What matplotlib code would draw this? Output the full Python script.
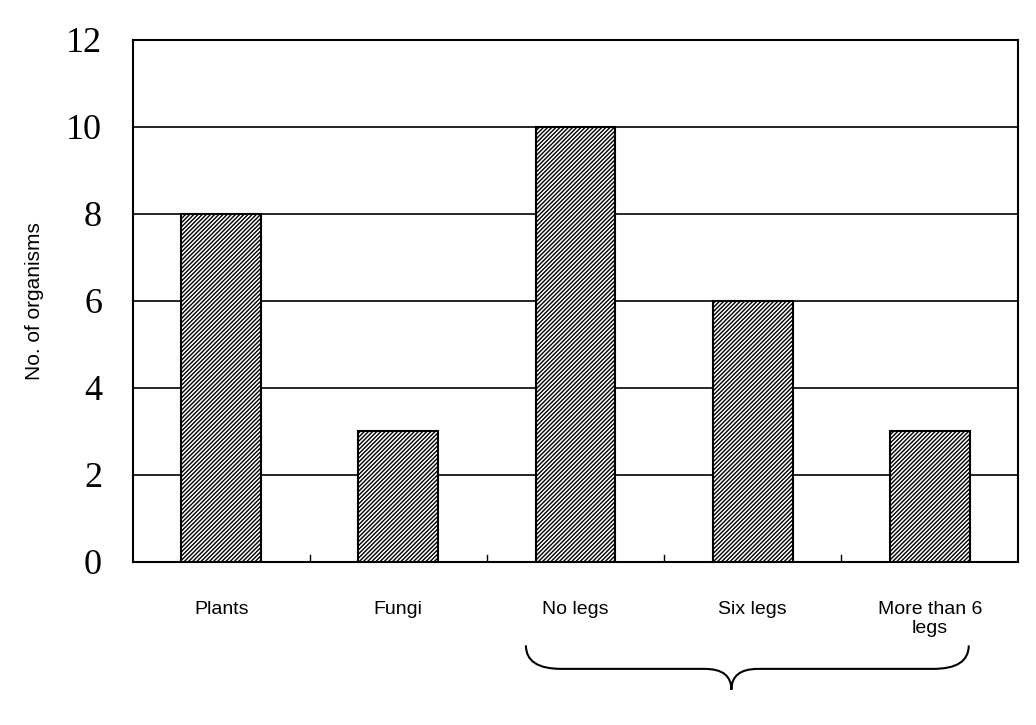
import matplotlib
matplotlib.use("Agg")
import matplotlib.pyplot as plt
from matplotlib.path import Path
from matplotlib.patches import PathPatch
import matplotlib.transforms as mtransforms

categories = ["Plants", "Fungi", "No legs", "Six legs", "More than 6\nlegs"]
values = [8, 3, 10, 6, 3]
y_ticks = [0, 2, 4, 6, 8, 10, 12]
y_label = "No. of organisms"

plt.rcParams["hatch.linewidth"] = 1.0

fig = plt.figure(figsize=(10.36, 7.25), dpi=100)
ax = fig.add_axes([0.128, 0.225, 0.855, 0.72])

x = list(range(len(categories)))
ax.bar(x, values, width=0.45, color="white", edgecolor="black", hatch="////////",
       linewidth=1.5, zorder=3)

ax.set_xlim(-0.5, len(categories) - 0.5)
ax.set_ylim(0, 12)
ax.set_yticks(y_ticks)
ax.set_yticklabels([str(t) for t in y_ticks], family="Liberation Serif", fontsize=26)
ax.tick_params(axis="y", length=0, pad=22)
ax.set_xticks(x)
ax.set_xticklabels(categories, family="Liberation Sans", fontsize=14)
ax.tick_params(axis="x", length=0, pad=28)
for b in [0.5, 1.5, 2.5, 3.5]:
    ax.plot([b, b], [0, 0.15], color="black", lw=1, zorder=2)

ax.grid(axis="y", color="black", linewidth=1.2, zorder=1)
for s in ax.spines.values():
    s.set_color("black")
    s.set_linewidth(1.5)

ax.set_ylabel(y_label, family="Liberation Sans", fontsize=15, labelpad=16)

# curly brace under the animal categories
trans = mtransforms.blended_transform_factory(ax.transData, ax.transAxes)
x0, x1, xm = 1.72, 4.22, 2.88
yt, yb, ytip = -0.16, -0.205, -0.245
verts = [
    (x0, yt), (x0, yb), (x0 + 0.2, yb),
    (xm - 0.15, yb),
    (xm, yb), (xm, ytip),
    (xm, yb), (xm + 0.15, yb),
    (x1 - 0.2, yb),
    (x1, yb), (x1, yt),
]
codes = [Path.MOVETO, Path.CURVE3, Path.CURVE3,
         Path.LINETO,
         Path.CURVE3, Path.CURVE3,
         Path.CURVE3, Path.CURVE3,
         Path.LINETO,
         Path.CURVE3, Path.CURVE3]
patch = PathPatch(Path(verts, codes), transform=trans, fill=False,
                  edgecolor="black", lw=1.5, clip_on=False)
ax.add_patch(patch)

fig.savefig("out.png", dpi=100, facecolor="white")
